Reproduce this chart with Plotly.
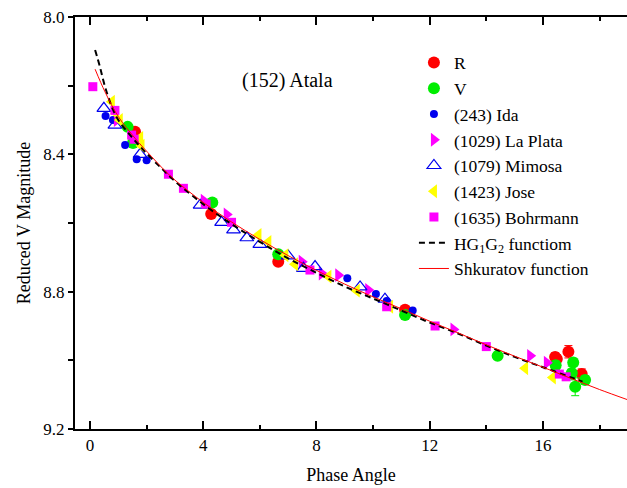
import plotly.graph_objects as go

# ---- data ----
r_x = [1.59, 4.28, 6.65, 11.13, 16.43, 16.49, 16.90, 17.37]
r_y = [8.334, 8.574, 8.713, 8.853, 8.990, 8.996, 8.975, 9.040]
r_err = [0, 0, 0, 0, 0.012, 0.012, 0.018, 0.015]

v_x = [1.33, 1.52, 4.32, 6.65, 11.13, 14.40, 16.45, 17.07, 17.02, 17.14, 17.49]
v_y = [8.320, 8.367, 8.540, 8.691, 8.868, 8.987, 9.014, 9.006, 9.037, 9.077, 9.057]
v_err = [0, 0.012, 0, 0, 0, 0, 0.012, 0.012, 0.02, 0.026, 0.012]

ida_x = [0.55, 0.81, 1.24, 1.65, 2.00, 9.09, 10.10, 10.48, 11.40]
ida_y = [8.288, 8.300, 8.373, 8.414, 8.417, 8.761, 8.807, 8.827, 8.855]

laplata_x = [0.95, 4.02, 4.83, 7.48, 8.19, 8.77, 9.83, 12.84, 15.55, 16.14]
laplata_y = [8.300, 8.535, 8.575, 8.713, 8.747, 8.752, 8.795, 8.910, 8.987, 9.007]

mimosa_x = [0.49, 0.88, 1.77, 3.89, 4.65, 5.07, 5.54, 6.00, 7.00, 7.54, 7.95, 9.54, 10.42]
mimosa_y = [8.266, 8.315, 8.400, 8.548, 8.598, 8.620, 8.643, 8.662, 8.696, 8.732, 8.727, 8.786, 8.822]

jose_x = [0.77, 0.92, 1.05, 1.77, 1.82, 5.95, 6.30, 6.90, 7.24, 8.42, 9.42, 10.60, 15.37, 16.35]
jose_y = [8.247, 8.280, 8.300, 8.352, 8.375, 8.635, 8.655, 8.694, 8.720, 8.756, 8.797, 8.844, 9.023, 9.050]

bohr_x = [0.10, 0.88, 1.47, 1.56, 2.77, 3.30, 4.10, 5.00, 7.77, 10.48, 12.19, 14.00, 16.58, 16.82]
bohr_y = [8.203, 8.272, 8.344, 8.356, 8.458, 8.499, 8.545, 8.598, 8.737, 8.844, 8.900, 8.960, 9.040, 9.048]

hg_x = [0.18, 0.35, 0.53, 0.77, 1.00, 1.47, 1.88, 2.53, 3.0, 4.0, 5.0, 6.0, 7.0, 8.0,
        9.0, 10.0, 11.0, 12.0, 13.0, 14.0, 15.0, 16.0, 17.0, 17.4]
hg_y = [8.096, 8.145, 8.203, 8.261, 8.300, 8.349, 8.387, 8.441, 8.478, 8.545, 8.603,
        8.655, 8.703, 8.745, 8.785, 8.820, 8.855, 8.890, 8.922, 8.957, 8.990, 9.020,
        9.050, 9.062]

shk_x = [0.18, 0.53, 1.00, 1.59, 2.18, 2.59, 3.0, 4.0, 5.0, 6.0, 7.0, 8.0, 9.0, 10.0,
         11.0, 12.0, 13.0, 14.0, 15.0, 16.0, 17.0, 18.0, 19.0]
shk_y = [8.152, 8.218, 8.290, 8.353, 8.407, 8.443, 8.475, 8.540, 8.597, 8.648, 8.695,
         8.738, 8.778, 8.815, 8.850, 8.886, 8.920, 8.955, 8.988, 9.020, 9.053, 9.085,
         9.115]

x_ticks = [0, 4, 8, 12, 16]
y_ticks = [8.0, 8.4, 8.8, 9.2]
y_tick_text = ["8.0", "8.4", "8.8", "9.2"]

FONT = "Liberation Serif, Times New Roman, serif"

fig = go.Figure()

fig.add_trace(go.Scatter(x=r_x, y=r_y, mode="markers", name="R",
                         marker=dict(symbol="circle", size=12, color="#ff0000"),
                         error_y=dict(type="data", array=r_err, color="#ff0000",
                                      thickness=1, width=4)))
fig.add_trace(go.Scatter(x=v_x, y=v_y, mode="markers", name="V",
                         marker=dict(symbol="circle", size=12, color="#00ee00"),
                         error_y=dict(type="data", array=v_err, color="#00ee00",
                                      thickness=1, width=4)))
fig.add_trace(go.Scatter(x=ida_x, y=ida_y, mode="markers", name="(243) Ida",
                         marker=dict(symbol="circle", size=8, color="#0000ee")))
fig.add_trace(go.Scatter(x=laplata_x, y=laplata_y, mode="markers", name="(1029) La Plata",
                         marker=dict(symbol="triangle-right", size=12, color="#ff00ff")))
fig.add_trace(go.Scatter(x=mimosa_x, y=mimosa_y, mode="markers", name="(1079) Mimosa",
                         marker=dict(symbol="triangle-up-open", size=12, color="#0000ee",
                                     line=dict(width=1.2))))
fig.add_trace(go.Scatter(x=jose_x, y=jose_y, mode="markers", name="(1423) Jose",
                         marker=dict(symbol="triangle-left", size=12, color="#ffff00")))
fig.add_trace(go.Scatter(x=bohr_x, y=bohr_y, mode="markers", name="(1635) Bohrmann",
                         marker=dict(symbol="square", size=9, color="#ff00ff")))
fig.add_trace(go.Scatter(x=hg_x, y=hg_y, mode="lines",
                         name="HG<sub>1</sub>G<sub>2</sub> functiom",
                         line=dict(color="black", width=2, dash="6px,4px", shape="spline")))
fig.add_trace(go.Scatter(x=shk_x, y=shk_y, mode="lines", name="Shkuratov function",
                         line=dict(color="#ff0000", width=1, shape="spline")))

fig.add_annotation(x=6.96, y=8.184, xref="x", yref="y", text="(152) Atala",
                   showarrow=False, font=dict(family=FONT, size=20, color="black"))

fig.update_layout(
    width=627, height=488,
    margin=dict(l=75, r=0, t=17, b=59),
    paper_bgcolor="white", plot_bgcolor="white",
    font=dict(family=FONT, size=16, color="black"),
    showlegend=True,
    legend=dict(x=0.614, y=0.933, xanchor="left", yanchor="top",
                bgcolor="rgba(0,0,0,0)", font=dict(family=FONT, size=17.5),
                tracegroupgap=0),
)
fig.update_xaxes(
    range=[-0.53, 18.97], tickvals=x_ticks, showgrid=False, zeroline=False,
    showline=True, linecolor="black", linewidth=2, mirror="ticks",
    ticks="inside", ticklen=8, tickwidth=1.5, tickcolor="black",
    minor=dict(ticks="inside", dtick=2, tick0=0, ticklen=4, tickwidth=1.5, tickcolor="black"),
    tickfont=dict(family=FONT, size=17),
    title=dict(text="Phase Angle", font=dict(family=FONT, size=18), standoff=14),
)
fig.update_yaxes(
    range=[9.2, 8.0], tickvals=y_ticks, ticktext=y_tick_text, showgrid=False, zeroline=False,
    showline=True, linecolor="black", linewidth=2, mirror=False,
    ticks="outside", ticklen=5, tickwidth=1.5, tickcolor="black",
    minor=dict(ticks="outside", dtick=0.2, tick0=8.0, ticklen=5, tickwidth=1.5, tickcolor="black"),
    tickfont=dict(family=FONT, size=17),
    title=dict(text="Reduced V Magnitude", font=dict(family=FONT, size=18), standoff=8),
)

fig.write_html("out.html",
               config={"displayModeBar": False},
               post_script="document.body.style.margin='0';document.body.style.overflow='hidden';")
